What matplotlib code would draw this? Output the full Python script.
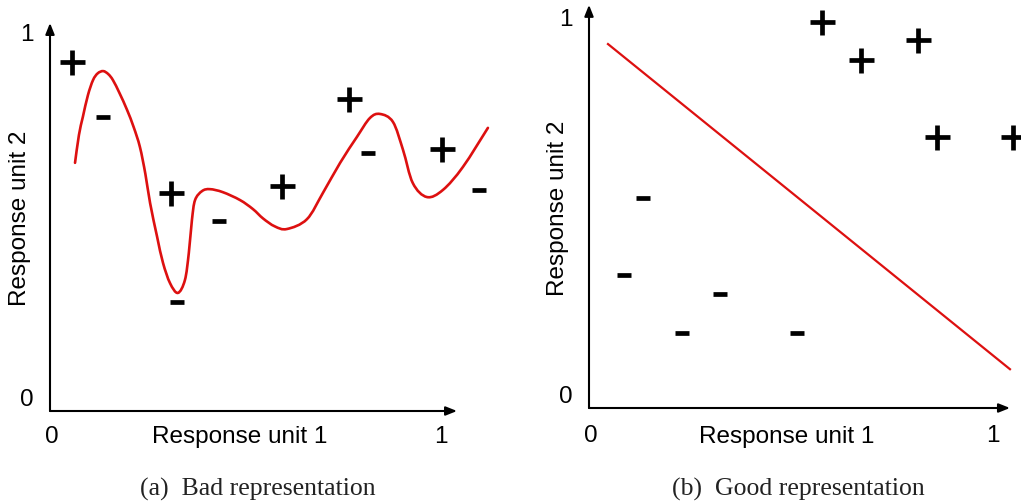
import numpy as np
import matplotlib
matplotlib.use("Agg")
import matplotlib.pyplot as plt
from matplotlib.path import Path
from matplotlib.patches import PathPatch

# ---- panel (a): wiggly decision boundary ----
bad_pos_x = [0.056, 0.309, 0.593, 0.765, 1.003]
bad_pos_y = [0.928, 0.580, 0.598, 0.830, 0.697]
bad_neg_x = [0.135, 0.433, 0.324, 0.814, 1.098]
bad_neg_y = [0.782, 0.505, 0.291, 0.685, 0.588]
bad_curve_x = [0.064, 0.074, 0.084, 0.097, 0.110, 0.122, 0.136, 0.149, 0.161,
               0.178, 0.197, 0.214, 0.230, 0.244, 0.256, 0.274, 0.289, 0.307,
               0.327, 0.345, 0.355, 0.363, 0.371, 0.389, 0.409, 0.442, 0.486,
               0.519, 0.545, 0.575, 0.606, 0.657, 0.698, 0.742, 0.785,
               0.818, 0.844, 0.877, 0.903, 0.928, 0.964, 1.005, 1.056, 1.120]
bad_curve_y = [0.660, 0.734, 0.782, 0.840, 0.880, 0.898, 0.904, 0.896, 0.880,
               0.845, 0.801, 0.755, 0.702, 0.630, 0.553, 0.463, 0.394, 0.340,
               0.314, 0.348, 0.420, 0.508, 0.561, 0.585, 0.590, 0.582, 0.561,
               0.537, 0.512, 0.491, 0.484, 0.510, 0.580, 0.660, 0.729,
               0.779, 0.790, 0.769, 0.694, 0.606, 0.569, 0.588, 0.649, 0.753]

# ---- panel (b): linear decision boundary ----
good_pos_x = [0.576, 0.673, 0.814, 0.861, 1.050]
good_pos_y = [0.996, 0.897, 0.948, 0.698, 0.698]
good_neg_x = [0.134, 0.087, 0.324, 0.230, 0.515]
good_neg_y = [0.541, 0.343, 0.294, 0.193, 0.193]
good_line_x = [0.047, 1.042]
good_line_y = [0.938, 0.100]

tick_labels = ["0", "1"]
axis_label_x = "Response unit 1"
axis_label_y = "Response unit 2"
captions = ["(a)  Bad representation", "(b)  Good representation"]

RED = "#dd1010"
SANS = ["Liberation Sans", "DejaVu Sans"]
SERIF = ["Liberation Serif", "DejaVu Serif"]

W, H = 1021, 504
fig = plt.figure(figsize=(W / 100, H / 100), dpi=100)


def make_panel(left_px, right_px, x0_px, x1_px, y0_px, y1_px):
    """Axes covering [left_px, right_px] horizontally, with data 0/1 placed at
    the given pixel columns / rows."""
    ax = fig.add_axes([left_px / W, 0, (right_px - left_px) / W, 1])
    sx = x1_px - x0_px
    sy = y0_px - y1_px
    ax.set_xlim((left_px - x0_px) / sx, (right_px - x0_px) / sx)
    ax.set_ylim((y0_px - H) / sy, y0_px / sy)
    ax.axis("off")
    return ax


def smooth_path(xs, ys):
    """Catmull-Rom curve through the points, expressed as cubic Bezier segments."""
    p = np.column_stack([xs, ys])
    p = np.vstack([p[0], p, p[-1]])
    verts = [p[1]]
    codes = [Path.MOVETO]
    for i in range(1, len(p) - 2):
        p0, p1, p2, p3 = p[i - 1], p[i], p[i + 1], p[i + 2]
        c1 = p1 + (p2 - p0) / 6.0
        c2 = p2 - (p3 - p1) / 6.0
        verts += [c1, c2, p2]
        codes += [Path.CURVE4] * 3
    return Path(verts, codes)


def draw_axes_arrows(ax, xmax, ymax):
    kw = dict(arrowstyle="-|>,head_length=0.55,head_width=0.22",
              color="black", lw=1.5, shrinkA=0, shrinkB=0, mutation_scale=12)
    ax.annotate("", xy=(xmax, 0), xytext=(0, 0), arrowprops=kw)
    ax.annotate("", xy=(0, ymax), xytext=(0, 0), arrowprops=kw)


def draw_markers(ax, px, py, nx, ny):
    ax.plot(px, py, linestyle="none", marker="+", markersize=18,
            markeredgewidth=3.4, color="black")
    ax.plot(nx, ny, linestyle="none", marker="_", markersize=10,
            markeredgewidth=3.4, color="black")


def tick_texts(ax, xt_y, yt_x, ytick0_y, xtick0_x):
    fs = 17.5
    ax.text(yt_x, ytick0_y, tick_labels[0], ha="center", va="center", fontsize=fs, family=SANS)
    ax.text(yt_x, 1.0, tick_labels[1], ha="center", va="center", fontsize=fs, family=SANS)
    ax.text(xtick0_x, xt_y, tick_labels[0], ha="center", va="center", fontsize=fs, family=SANS)
    ax.text(1.0, xt_y, tick_labels[1], ha="center", va="center", fontsize=fs, family=SANS)


# panel (a)
ax1 = make_panel(0, 510, 50, 441, 411, 35)
draw_axes_arrows(ax1, 1.041, 1.032)
ax1.add_patch(PathPatch(smooth_path(bad_curve_x, bad_curve_y), facecolor="none",
                        edgecolor=RED, lw=1.9, joinstyle="round", capstyle="round"))
draw_markers(ax1, bad_pos_x, bad_pos_y, bad_neg_x, bad_neg_y)
tick_texts(ax1, -0.069, -0.059, 0.029, 0.005)

# panel (b)
ax2 = make_panel(510, 1021, 589, 993, 408, 20)
draw_axes_arrows(ax2, 1.042, 1.039)
ax2.plot(good_line_x, good_line_y, color=RED, lw=1.6)
draw_markers(ax2, good_pos_x, good_pos_y, good_neg_x, good_neg_y)
tick_texts(ax2, -0.072, -0.058, 0.028, 0.005)

# axis titles and captions (figure pixel positions)
def fig_text(x, y, s, **kw):
    fig.text(x / W, 1 - y / H, s, ha="center", va="center", **kw)

fig_text(240, 437, axis_label_x, fontsize=17.5, family=SANS)
fig_text(787, 437, axis_label_x, fontsize=17.5, family=SANS)
fig_text(20, 218, axis_label_y, fontsize=17.5, family=SANS, rotation=90)
fig_text(558, 208, axis_label_y, fontsize=17.5, family=SANS, rotation=90)
fig_text(258, 489, captions[0], fontsize=18.5, family=SERIF, color="#222222")
fig_text(798, 489, captions[1], fontsize=18.5, family=SERIF, color="#222222")

fig.savefig("out.png", dpi=100, facecolor="white")
